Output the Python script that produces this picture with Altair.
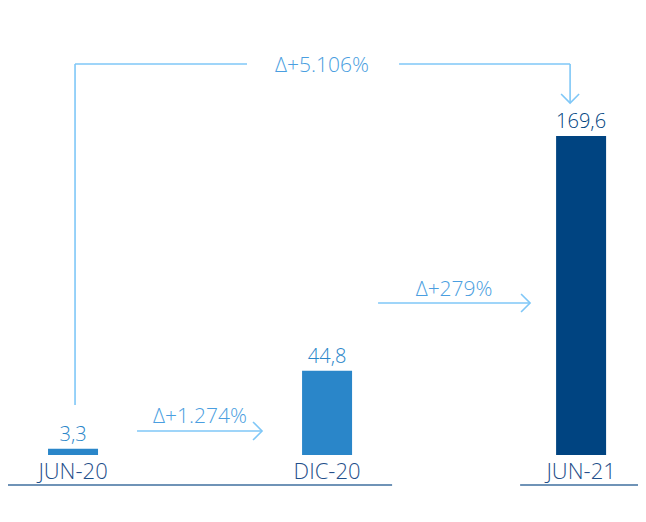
import altair as alt
import pandas as pd

# ---- data ----
categories = ["JUN-20", "DIC-20", "JUN-21"]
values = [3.3, 44.8, 169.6]
value_labels = ["3,3", "44,8", "169,6"]
change_labels = ["Δ+1.274%", "Δ+279%", "Δ+5.106%"]

# ---- styles ----
bar_colors = ["#2a86c9", "#2a86c9", "#004481"]
value_colors = ["#3a8fd6", "#3a8fd6", "#2d5f94"]
cat_color = "#1f4f8a"
delta_color = "#4a9ee0"
arrow_color = "#7fc7f7"
base_color = "#3f6f9f"
FONT = "Open Sans"
FW = 300

W, H = 630, 480
X_DOM = [-0.256, 2.224]
Y_DOM = [-17.54, 237.6]
PXY = (Y_DOM[1] - Y_DOM[0]) / H
PXX = (X_DOM[1] - X_DOM[0]) / W


def dy(p):
    return p * PXY


def dx(p):
    return p * PXX


xs = alt.Scale(domain=X_DOM, nice=False, zero=False, padding=0)
ys = alt.Scale(domain=Y_DOM, nice=False, zero=False, padding=0)
X = lambda f: alt.X(f, type="quantitative", scale=xs, axis=None)
Y = lambda f: alt.Y(f, type="quantitative", scale=ys, axis=None)

bars_df = pd.DataFrame({
    "idx": list(range(len(categories))),
    "cat": categories,
    "val": values,
    "lab": value_labels,
    "zero": [0.0] * len(categories),
})

bars = alt.Chart(bars_df).mark_bar(size=50).encode(
    x=X("idx"), y=Y("val"), y2=alt.Y2("zero"),
    color=alt.Color("cat:N", scale=alt.Scale(domain=categories, range=bar_colors), legend=None),
)

val_text = alt.Chart(bars_df).mark_text(
    baseline="alphabetic", dy=-8, fontSize=20, font=FONT, fontWeight=FW
).encode(
    x=X("idx"), y=Y("val"), text="lab:N",
    color=alt.Color("cat:N", scale=alt.Scale(domain=categories, range=value_colors), legend=None),
)

cat_text = alt.Chart(bars_df).mark_text(
    baseline="alphabetic", dy=24, fontSize=22, font=FONT, fontWeight=FW, color=cat_color
).encode(x=X("idx"), y=Y("zero"), text="cat:N")

# base lines under groups
base_df = pd.DataFrame({
    "x": [X_DOM[0], 2 - 0.24],
    "x2": [1 + 0.256, X_DOM[1]],
    "y": [dy(-30), dy(-30)],
})
base = alt.Chart(base_df).mark_rule(color=base_color, strokeWidth=1.5).encode(
    x=X("x"), x2="x2", y=Y("y")
)

# arrow segments
seg_df = pd.DataFrame([
    {"x": 0 + dx(64), "x2": 0 + dx(189), "y": dy(24), "y2": dy(24)},
    {"x": 1 + dx(51), "x2": 1 + dx(203), "y": dy(152), "y2": dy(152)},
    {"x": 0 + dx(2), "x2": 0 + dx(2), "y": dy(50), "y2": dy(391)},
    {"x": 0 + dx(2), "x2": 0 + dx(174), "y": dy(391), "y2": dy(391)},
    {"x": 1 + dx(72), "x2": 2 - dx(11), "y": dy(391), "y2": dy(391)},
    {"x": 2 - dx(11), "x2": 2 - dx(11), "y": dy(391), "y2": dy(352)},
])
segs = alt.Chart(seg_df).mark_rule(color=arrow_color, strokeWidth=1.6).encode(
    x=X("x"), x2="x2", y=Y("y"), y2="y2"
)

right_df = pd.DataFrame({"x": [0 + dx(189), 1 + dx(203)], "y": [dy(24), dy(152)]})
down_df = pd.DataFrame({"x": [2 - dx(11)], "y": [dy(352)]})
heads_r = alt.Chart(right_df).mark_point(
    shape="M-1,-1L0,0L-1,1", size=324, filled=False, strokeWidth=1.6,
    color=arrow_color, opacity=1
).encode(x=X("x"), y=Y("y"))
heads_d = alt.Chart(down_df).mark_point(
    shape="M-1,-1L0,0L1,-1", size=324, filled=False, strokeWidth=1.6,
    color=arrow_color, opacity=1
).encode(x=X("x"), y=Y("y"))

delta_df = pd.DataFrame({
    "x": [0.5, 1.5, 0 + dx(249)],
    "y": [dy(32), dy(159), dy(383)],
    "lab": change_labels,
})
delta_text = alt.Chart(delta_df).mark_text(
    baseline="alphabetic", fontSize=21, font=FONT, fontWeight=FW, color=delta_color
).encode(x=X("x"), y=Y("y"), text="lab:N")

chart = alt.layer(
    base, segs, heads_r, heads_d, bars, val_text, cat_text, delta_text
).properties(
    width=W, height=H, padding=0,
    autosize=alt.AutoSizeParams(type="none"),
).configure_view(stroke=None)

chart.save("out.html", embed_options={"renderer": "svg", "actions": False})
